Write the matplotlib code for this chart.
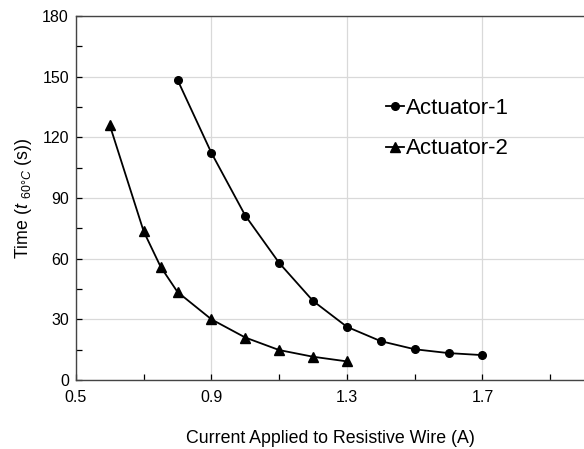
import numpy as np
import matplotlib
matplotlib.use("Agg")
from matplotlib import pyplot as plt
from matplotlib.ticker import MultipleLocator, FixedLocator

plt.rcParams['font.family'] = ['Liberation Sans', 'DejaVu Sans']
plt.rcParams['mathtext.fontset'] = 'custom'
plt.rcParams['mathtext.rm'] = 'Liberation Sans'
plt.rcParams['mathtext.it'] = 'Liberation Sans:italic'

# data
current_1 = [0.8, 0.9, 1.0, 1.1, 1.2, 1.3, 1.4, 1.5, 1.6, 1.7]
time_1 = [148.4, 112.3, 81.3, 57.9, 39.1, 26.3, 19.2, 15.2, 13.3, 12.3]

current_2 = [0.6, 0.7, 0.75, 0.8, 0.9, 1.0, 1.1, 1.2, 1.3]
time_2 = [126, 73.5, 56, 43.5, 30, 21, 14.8, 11.5, 9.2]

x_ticks = [0.5, 0.9, 1.3, 1.7]
x_minor = [0.7, 1.1, 1.5, 1.9]

fig = plt.figure(figsize=(5.84, 4.49), dpi=100)
ax = fig.add_axes([0.130, 0.1537, 0.870, 0.8107])

ax.plot(current_1, time_1, color='black', lw=1.3, marker='o', ms=5.5, label='Actuator-1')
ax.plot(current_2, time_2, color='black', lw=1.3, marker='^', ms=6.5, label='Actuator-2')

ax.set_xlim(0.5, 2.0)
ax.set_ylim(0, 180)
ax.xaxis.set_major_locator(FixedLocator(x_ticks))
ax.xaxis.set_minor_locator(FixedLocator(x_minor))
ax.yaxis.set_major_locator(MultipleLocator(30))
ax.yaxis.set_minor_locator(MultipleLocator(15))
ax.xaxis.set_major_formatter(plt.FuncFormatter(lambda v, p: '%.1f' % v))

ax.grid(True, which='major', color='#d9d9d9', lw=0.9)
ax.set_axisbelow(True)
ax.tick_params(which='both', direction='in', length=4, width=0.9, labelsize=11.5, colors='black')
ax.tick_params(axis='x', pad=7)
ax.tick_params(axis='y', pad=5)

for s in ['left', 'bottom', 'top']:
    ax.spines[s].set_color('#444444')
    ax.spines[s].set_linewidth(1.0)
ax.spines['right'].set_visible(False)

ax.set_xlabel('Current Applied to Resistive Wire (A)', fontsize=12.8, labelpad=18)
ax.set_ylabel(r'Time ($t$ $_{\mathit{60°C}}$ (s))', fontsize=12.8, labelpad=6)

leg = ax.legend(loc='upper left', bbox_to_anchor=(0.571, 0.83), frameon=False,
                fontsize=16, handlelength=0.8, handletextpad=0.1, labelspacing=0.88)

fig.savefig('out.png', dpi=100)
